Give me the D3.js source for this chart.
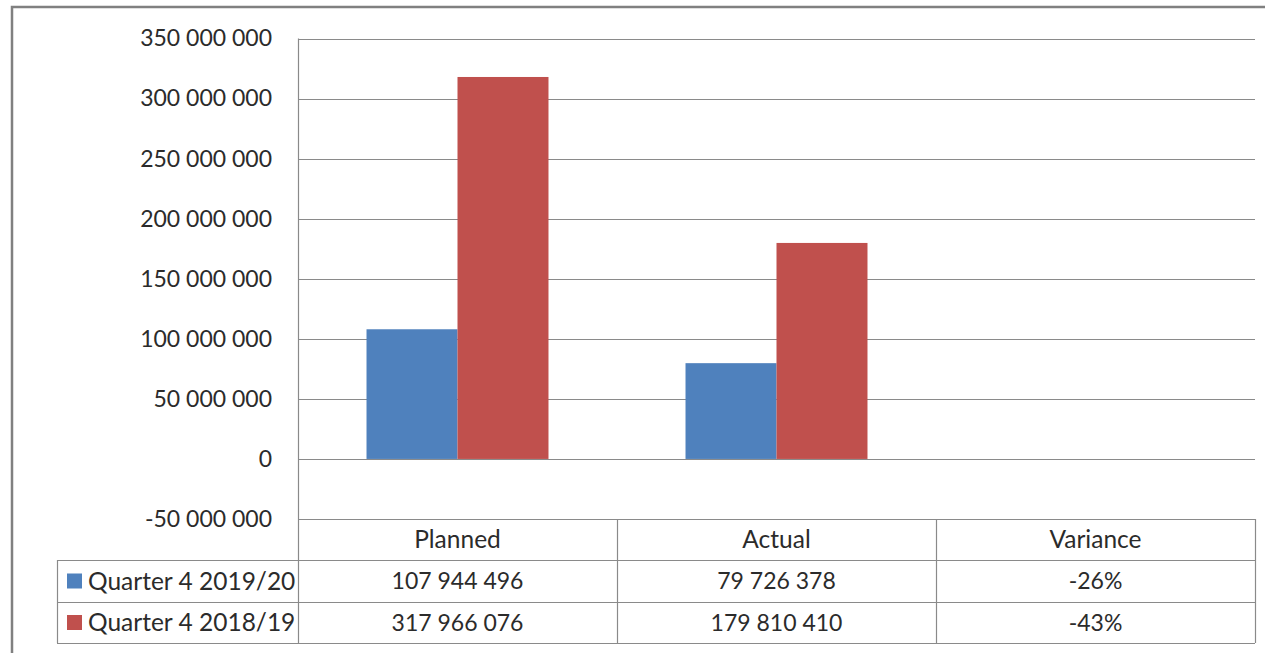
<!DOCTYPE html>
<html><head><meta charset="utf-8">
<script src="https://cdn.jsdelivr.net/npm/d3@7"></script>
<style>body{margin:0;background:#fff;} svg{display:block;}</style>
</head><body>
<svg id="c" width="1265" height="653"></svg>
<script>
const categories = ["Planned", "Actual", "Variance"];
const seriesNames = ["Quarter 4 2019/20", "Quarter 4 2018/19"];
const q4_2019_20 = [107944496, 79726378, -0.26];
const q4_2018_19 = [317966076, 179810410, -0.43];
const seriesColors = ["#4F81BD", "#C0504D"];
const yTicks = [-50000000, 0, 50000000, 100000000, 150000000, 200000000, 250000000, 300000000, 350000000];

const seriesData = [q4_2019_20, q4_2018_19];
const loc = d3.formatLocale({decimal: ".", thousands: " ", grouping: [3], currency: ["", ""], minus: "-"});
const fmtNum = loc.format(",.0f");
const fmtPct = loc.format(".0%");

const svg = d3.select("#c");
const font = "Lato, 'Open Sans', sans-serif";
const txt = "#2b2b2b";
const gridC = "#8a8a8a";
const numSize = 23, wordSize = 24.5;
const plotL = 298, plotR = 1255, plotT = 38.5, plotB = 519;
const tableLeft = 57, rowH = [519, 560, 602, 643];

// outer frame
svg.append("rect").attr("x", 12).attr("y", 7).attr("width", 1300).attr("height", 700)
  .attr("fill", "#fff").attr("stroke", "#808080").attr("stroke-width", 2.5);

const y = d3.scaleLinear().domain([-50000000, 350000000]).range([plotB, plotT]);
const x = d3.scaleBand().domain(categories).range([plotL, plotR]).paddingInner(0).paddingOuter(0);
const xs = d3.scaleBand().domain(seriesNames).range([0, x.bandwidth()]).paddingInner(0).paddingOuter(0.753);

// gridlines
svg.append("g").selectAll("line").data(yTicks).join("line")
  .attr("x1", plotL).attr("x2", plotR)
  .attr("y1", d => Math.round(y(d)) + 0.5).attr("y2", d => Math.round(y(d)) + 0.5)
  .attr("stroke", gridC).attr("stroke-width", 1.2);

// y axis labels via d3 axis
const yAxis = d3.axisLeft(y).tickValues(yTicks).tickFormat(fmtNum).tickSize(0).tickPadding(0);
const ag = svg.append("g").attr("transform", `translate(${272},0)`).call(yAxis);
ag.select(".domain").remove();
ag.selectAll("text").attr("font-family", font).attr("font-size", numSize).attr("fill", txt);

// bars
seriesNames.forEach((s, si) => {
  svg.append("g").selectAll("rect").data(categories).join("rect")
    .attr("x", c => x(c) + xs(s))
    .attr("width", xs.bandwidth())
    .attr("y", (c, i) => y(Math.max(0, seriesData[si][i])))
    .attr("height", (c, i) => Math.abs(y(seriesData[si][i]) - y(0)))
    .attr("fill", seriesColors[si]);
});

// vertical axis line
svg.append("line").attr("x1", plotL + 0.5).attr("x2", plotL + 0.5).attr("y1", plotT).attr("y2", rowH[3])
  .attr("stroke", gridC).attr("stroke-width", 1.2);

// data table lines
const tg = svg.append("g").attr("stroke", gridC).attr("stroke-width", 1.2);
rowH.forEach((h, i) => {
  tg.append("line").attr("x1", i === 0 ? plotL : tableLeft).attr("x2", plotR).attr("y1", h + 0.5).attr("y2", h + 0.5);
});
tg.append("line").attr("x1", tableLeft + 0.5).attr("x2", tableLeft + 0.5).attr("y1", rowH[1]).attr("y2", rowH[3]);
categories.forEach(c => {
  tg.append("line").attr("x1", x(c) + x.bandwidth() + 0.5).attr("x2", x(c) + x.bandwidth() + 0.5).attr("y1", rowH[0]).attr("y2", rowH[3]);
});

// header labels
svg.append("g").selectAll("text").data(categories).join("text")
  .attr("x", c => x(c) + x.bandwidth() / 2).attr("y", (rowH[0] + rowH[1]) / 2)
  .attr("dy", "0.36em").attr("text-anchor", "middle")
  .attr("font-family", font).attr("font-size", wordSize).attr("fill", txt).text(c => c);

// rows
seriesNames.forEach((s, si) => {
  const cy = (rowH[si + 1] + rowH[si + 2]) / 2;
  svg.append("rect").attr("x", 67).attr("y", cy - 7.5).attr("width", 15).attr("height", 15).attr("fill", seriesColors[si]);
  svg.append("text").attr("x", 88).attr("y", cy).attr("dy", "0.36em")
    .attr("font-family", font).attr("font-size", wordSize).attr("fill", txt).text(s);
  svg.append("g").selectAll("text").data(categories).join("text")
    .attr("x", c => x(c) + x.bandwidth() / 2).attr("y", cy).attr("dy", "0.36em")
    .attr("text-anchor", "middle").attr("font-family", font).attr("font-size", numSize).attr("fill", txt)
    .text((c, i) => c === "Variance" ? fmtPct(seriesData[si][i]) : fmtNum(seriesData[si][i]));
});
</script>
</body></html>
